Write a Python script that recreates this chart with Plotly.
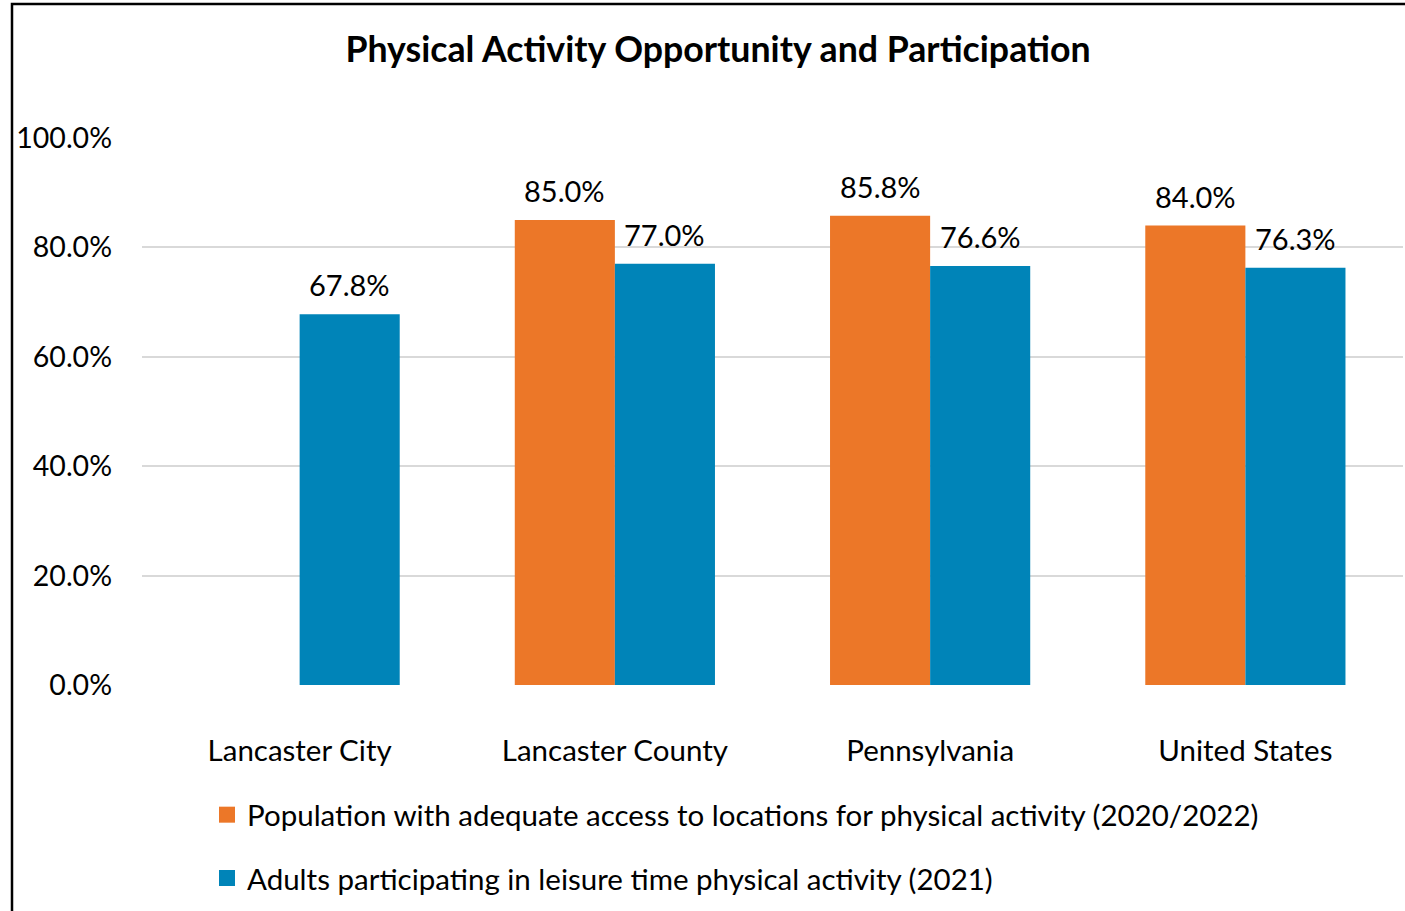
import plotly.graph_objects as go

categories = ["Lancaster City", "Lancaster County", "Pennsylvania", "United States"]
access = [None, 85.0, 85.8, 84.0]
leisure = [67.8, 77.0, 76.6, 76.3]
series_names = [
    "Population with adequate access to locations for physical activity (2020/2022)",
    "Adults participating in leisure time physical activity (2021)",
]
yticks = [0, 20, 40, 60, 80, 100]
ytick_labels = ["0.0%", "20.0%", "40.0%", "60.0%", "80.0%", "100.0%"]

FONT = "Lato"
ORANGE = "#EC7728"
BLUE = "#0084B8"
COLORS = [ORANGE, BLUE]

W, H = 1405, 911
L, R, T, B = 142, 2, 138, 226
pw = W - L - R
ph = H - T - B

fig = go.Figure()
for name, vals, col in zip(series_names, [access, leisure], COLORS):
    fig.add_trace(go.Bar(x=categories, y=vals, name=name, marker_color=col,
                         marker_line_width=0, showlegend=False))
# legend entries (larger square swatches)
for i, (name, col) in enumerate(zip(series_names, COLORS)):
    fig.add_trace(go.Scatter(x=[None], y=[None], mode="markers", name=name,
                             marker=dict(symbol="square", size=18, color=col),
                             legendgroup=f"g{i}", showlegend=True))

# data labels
annots = []
offsets = [-50, 50]
for vals, dx in zip([access, leisure], offsets):
    for c, v in zip(categories, vals):
        if v is None:
            continue
        annots.append(dict(x=c, y=v, xref="x", yref="y", text=f"{v:.1f}%",
                           showarrow=False, xshift=dx, yanchor="bottom", yshift=10,
                           font=dict(size=29, family=FONT, color="black")))

bx0 = (12 - L) / pw
by1 = (H - B - 4) / ph

fig.update_layout(
    width=W, height=H,
    margin=dict(l=L, r=R, t=T, b=B, autoexpand=False),
    paper_bgcolor="white", plot_bgcolor="white",
    barmode="group", bargap=0.365, bargroupgap=0,
    font=dict(family=FONT, size=29, color="black"),
    title=dict(text="<b>Physical Activity Opportunity and Participation</b>",
               x=718 / W, xanchor="center", y=1 - 50 / H, yanchor="middle",
               font=dict(size=35.7, family=FONT, color="black")),
    xaxis=dict(showgrid=False, showline=False, ticks="", ticklabelstandoff=45,
               tickfont=dict(size=29.5, family=FONT, color="black")),
    yaxis=dict(range=[0, 100], tickvals=yticks, ticktext=ytick_labels,
               showgrid=True, gridcolor="#D9D9D9", gridwidth=2, zeroline=False,
               showline=False, ticks="", ticklabelstandoff=29,
               tickfont=dict(size=28.5, family=FONT, color="black")),
    legend=dict(orientation="v", x=(207 - L) / pw, xanchor="left",
                y=-(789 - (H - B)) / ph, yanchor="top",
                font=dict(size=29.5, family=FONT, color="black"),
                tracegroupgap=22, traceorder="grouped", itemsizing="trace",
                bgcolor="rgba(0,0,0,0)"),
    showlegend=True,
    annotations=annots,
    shapes=[dict(type="rect", xref="paper", yref="paper", x0=bx0, x1=1.5, y0=-1, y1=by1,
                 line=dict(color="black", width=2.5), fillcolor="rgba(0,0,0,0)", layer="above")],
)

fig.write_html("out.html", config={"displayModeBar": False},
               post_script="document.body.style.margin='0';document.body.style.overflow='hidden';")
